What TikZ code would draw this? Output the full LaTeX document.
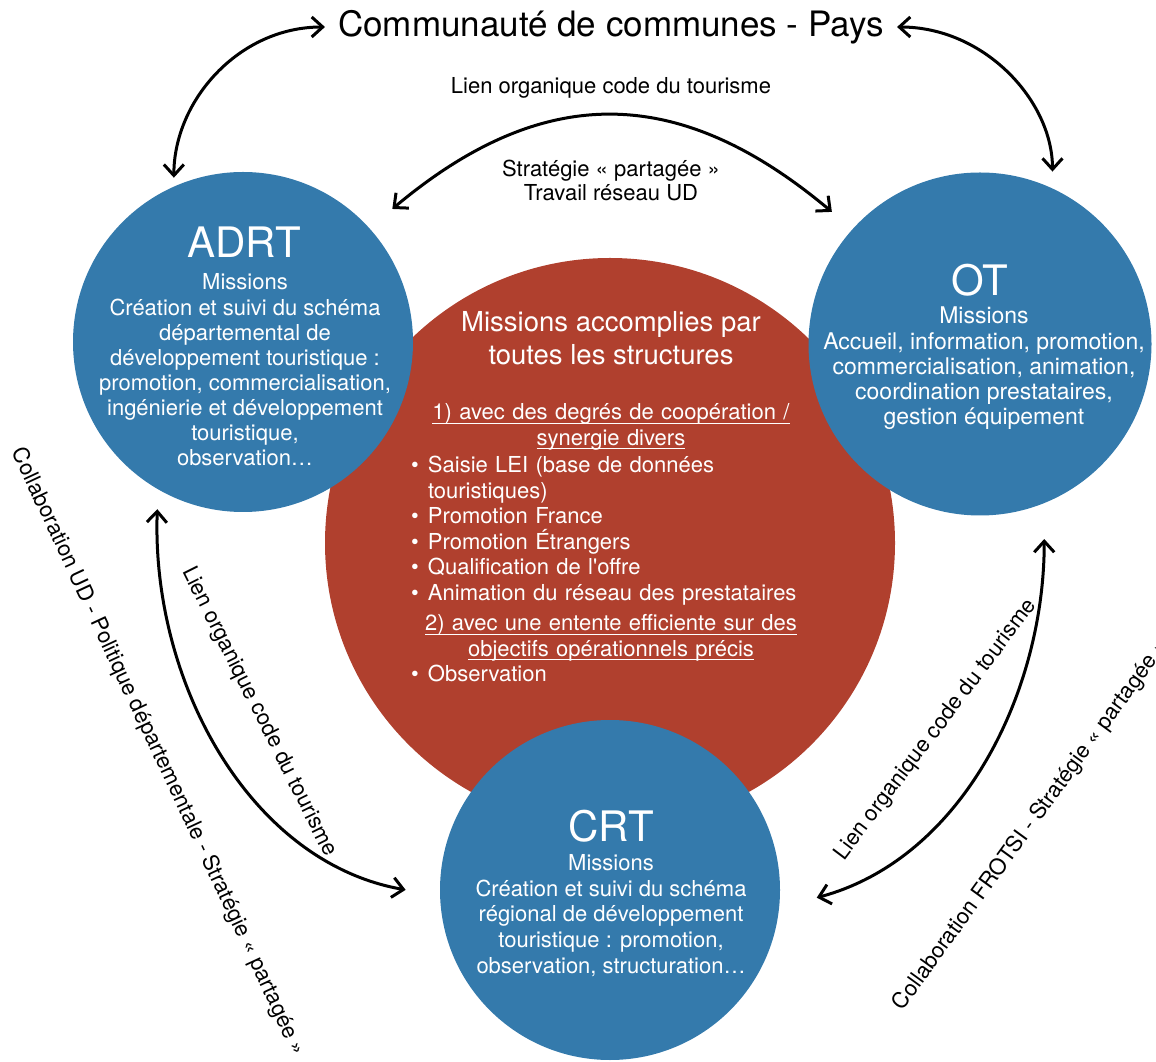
\documentclass[tikz,border=0pt]{standalone}
\usepackage{fontspec}
\setmainfont{TeX Gyre Heros}
\usetikzlibrary{arrows.meta}

\definecolor{bleu}{RGB}{52,122,172}
\definecolor{brique}{RGB}{176,64,46}

\tikzset{
  rond/.style={circle, inner sep=0pt, outer sep=0pt},
  sigle/.style={text=white, font=\fontsize{42}{46}\selectfont},
  corps/.style={text=white, align=center, font=\fontsize{22}{25.1}\selectfont},
  legende/.style={inner sep=0pt, font=\fontsize{22}{24}\selectfont},
  lien/.style={line width=3pt, <->, >={Straight Barb[length=11pt,width=20pt]}}
}
% puces et intertitres soulignes du grand cercle
\newcommand\puce{\par\noindent\hangindent=17pt\hangafter=1\makebox[17pt][l]{\textbullet}}
\newcommand\souligne[1]{\par{\centering\underline{\raisebox{0pt}[\height][2pt]{#1}}\par}}

\begin{document}
\begin{tikzpicture}[x=1pt, y=1pt]
\useasboundingbox (0,0) rectangle (1156,1061);
% cercles
\node[rond, fill=brique, minimum size=570pt] at(610, 518)(mission){};
\node[rond, fill=bleu, minimum size=340pt] at(243, 719)(adrt){};
\node[rond, fill=bleu, minimum size=343pt] at(980, 717)(ot){};
\node[rond, fill=bleu, minimum size=340pt] at(610, 171)(crt){};
% textes des cercles
\node[sigle] at(244, 819)(adrtnom){ADRT};
\node[corps] at(245, 691)(adrtmis){Missions\\Création et suivi du schéma\\départemental de\\développement touristique :\\promotion, commercialisation,\\ingénierie et développement\\touristique,\\observation…};
\node[sigle] at(980, 781)(otnom){OT};
\node[corps, font=\fontsize{23}{25.3}\selectfont] at(984, 692.5)(otmis){Missions\\Accueil, information, promotion,\\commercialisation, animation,\\coordination prestataires,\\gestion équipement};
\node[sigle] at(611, 235)(crtnom){CRT};
\node[corps, font=\fontsize{22}{25.7}\selectfont] at(611, 145.5)(crtmis){Missions\\Création et suivi du schéma\\régional de développement\\touristique : promotion,\\observation, structuration…};
\node[text=white, align=center, font=\fontsize{27.5}{33}\selectfont] at(611, 722.5)(mtitre){Missions accomplies par\\toutes les structures};
\node[text=white, text width=400pt, align=left, font=\fontsize{22}{25.5}\selectfont] at(611, 523)(mliste){%
\souligne{1) avec des degrés de coopération /}
\souligne{synergie divers}\vspace{2pt}
\puce Saisie LEI (base de données\newline touristiques)
\puce Promotion France
\puce Promotion Étrangers
\puce Qualification de l\textquotesingle offre
\puce Animation du réseau des prestataires\vspace{5pt}
\souligne{2) avec une entente efficiente sur des}
\souligne{objectifs opérationnels précis}
\puce Observation};
% legendes
\node[font=\fontsize{35}{40}\selectfont, inner sep=13pt] at(611, 1034)(pays){Communauté de communes - Pays};
\node[legende] at(611, 973)(lienhaut){Lien organique code du tourisme};
\node[legende, align=center] at(611, 881)(strat){Stratégie « partagée »\\Travail réseau UD};
\node[legende, rotate=-63.4] at(259, 349)(lieng){Lien organique code du tourisme};
\node[legende, rotate=-65] at(158, 309)(collabg){Collaboration UD - Politique départementale - Stratégie « partagée »};
\node[legende, rotate=53] at(936, 331)(liend){Lien organique code du tourisme};
\node[legende, rotate=54, anchor=west] at(898, 53)(collabd){Collaboration FROTSI - Stratégie « partagée »};
% fleches
\draw[lien, shorten >=9pt] (pays.west) to[out=180, in=90] (adrt.114.7);
\draw[lien, shorten >=17pt] (pays.east) to[out=0, in=90] (ot.65.5);
\draw[lien, shorten <=30pt, shorten >=27pt] (adrt.42) to[out=40, in=140, looseness=1.2] (ot.138);
\draw[lien, shorten <=20pt, shorten >=35pt] (adrt.240) to[out=268, in=170] (crt.182);
\draw[lien, shorten <=36pt, shorten >=39pt] (ot.292) to[out=270, in=15] (crt.354);
\end{tikzpicture}
\end{document}
